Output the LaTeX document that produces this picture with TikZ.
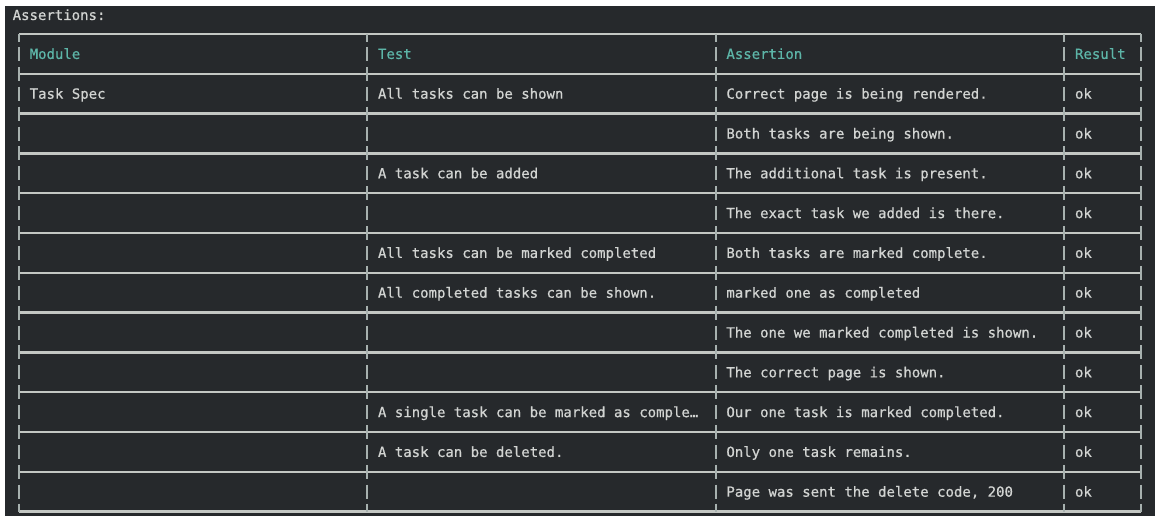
\documentclass[tikz,border=0pt]{standalone}
\usepackage{fontspec}
\setmonofont[FakeBold=0.6]{DejaVu Sans Mono}
\definecolor{bg}{HTML}{26292C}
\definecolor{head}{HTML}{5DB5A8}
\definecolor{txt}{HTML}{D2D4D2}
\definecolor{rulec}{HTML}{C3C7C3}
\definecolor{barc}{HTML}{A7B1AF}
\tikzset{
  cell/.style={anchor=base west, inner sep=0pt, font=\ttfamily\fontsize{14}{14}\selectfont, text=txt},
  headcell/.style={cell, text=head},
  hrule/.style={draw=rulec, line width=2.4pt},
  vbar/.style={draw=barc, line width=2pt},
}
\begin{document}
\begin{tikzpicture}[x=1pt,y=-1pt]
\useasboundingbox (0,0) rectangle (1155,516);
\fill[white] (0,0) rectangle (1155,516);
\fill[bg] (5,6) rectangle (1155,516);
\node[cell] (title) at (12.5,20) {Assertions:};
% horizontal rules
\foreach \k in {0,...,12} {
  \draw[hrule] (19,{34+39.8*\k}) -- (1141,{34+39.8*\k});
}
% stubs at crossings and bars in rows
\foreach \x in {19,367.3,715.7,1064.3,1141} {
  \draw[vbar] (\x,34) -- (\x,42);
  \draw[vbar] (\x,{34+39.8*12-8}) -- (\x,{34+39.8*12});
  \foreach \k in {1,...,11} {
    \draw[vbar] (\x,{34+39.8*\k-7}) -- (\x,{34+39.8*\k+7});
  }
  \foreach \r in {0,...,11} {
    \draw[vbar] (\x,{34+39.8*\r+19.9-7}) -- (\x,{34+39.8*\r+19.9+7});
  }
}
% header
\def\rowy#1{{34+39.8*#1+19.9+5}}
\node[headcell] (h1) at (29.5,\rowy{0}) {Module};
\node[headcell] (h2) at (377.8,\rowy{0}) {Test};
\node[headcell] (h3) at (726.2,\rowy{0}) {Assertion};
\node[headcell] (h4) at (1074.8,\rowy{0}) {Result};
% column 1
\node[cell] (m1) at (29.5,\rowy{1}) {Task Spec};
% column 2
\node[cell] (t1) at (377.8,\rowy{1}) {All tasks can be shown};
\node[cell] (t3) at (377.8,\rowy{3}) {A task can be added};
\node[cell] (t5) at (377.8,\rowy{5}) {All tasks can be marked completed};
\node[cell] (t6) at (377.8,\rowy{6}) {All completed tasks can be shown.};
\node[cell] (t9) at (377.8,\rowy{9}) {A single task can be marked as comple…};
\node[cell] (t10) at (377.8,\rowy{10}) {A task can be deleted.};
% column 3
\node[cell] (a1) at (726.2,\rowy{1}) {Correct page is being rendered.};
\node[cell] (a2) at (726.2,\rowy{2}) {Both tasks are being shown.};
\node[cell] (a3) at (726.2,\rowy{3}) {The additional task is present.};
\node[cell] (a4) at (726.2,\rowy{4}) {The exact task we added is there.};
\node[cell] (a5) at (726.2,\rowy{5}) {Both tasks are marked complete.};
\node[cell] (a6) at (726.2,\rowy{6}) {marked one as completed};
\node[cell] (a7) at (726.2,\rowy{7}) {The one we marked completed is shown.};
\node[cell] (a8) at (726.2,\rowy{8}) {The correct page is shown.};
\node[cell] (a9) at (726.2,\rowy{9}) {Our one task is marked completed.};
\node[cell] (a10) at (726.2,\rowy{10}) {Only one task remains.};
\node[cell] (a11) at (726.2,\rowy{11}) {Page was sent the delete code, 200};
% column 4
\foreach \r in {1,...,11} {
  \node[cell] (ok\r) at (1074.8,\rowy{\r}) {ok};
}
\end{tikzpicture}
\end{document}
